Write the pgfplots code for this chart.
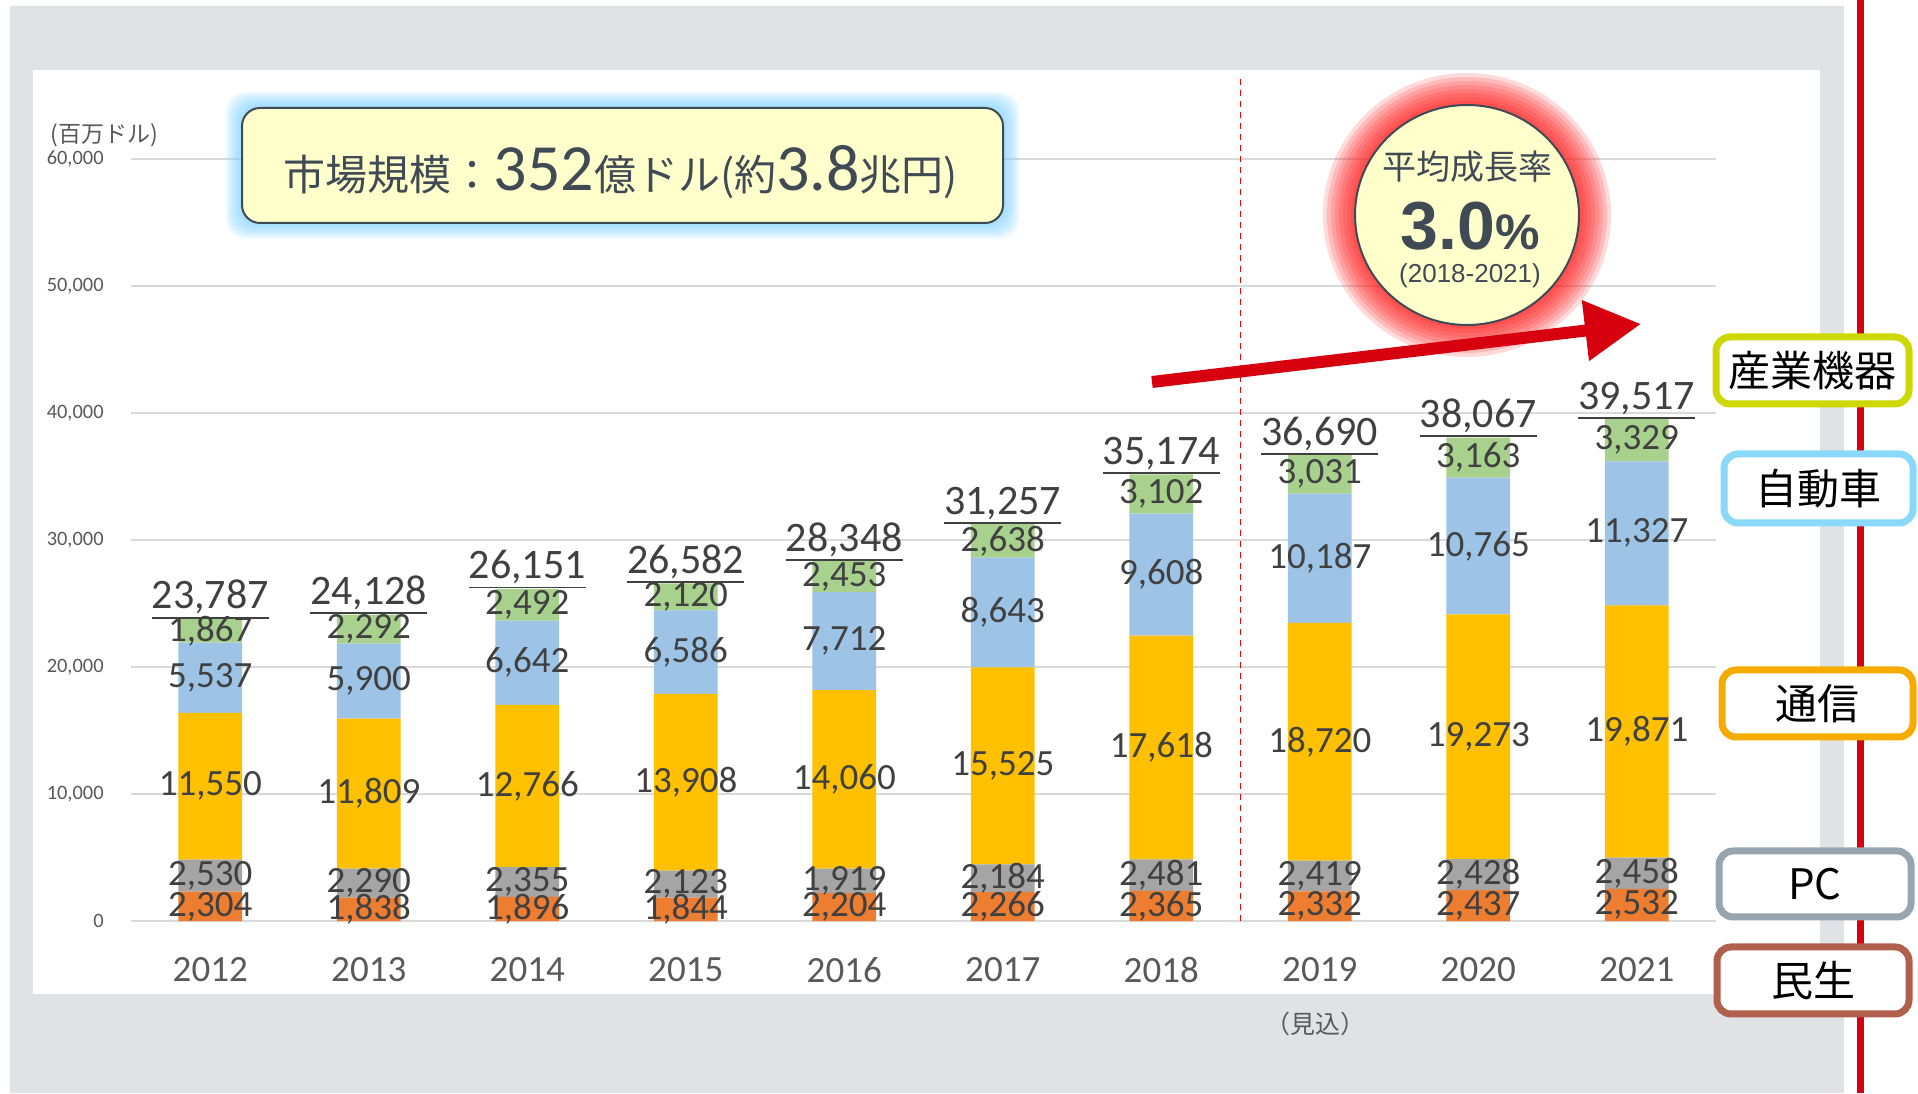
\documentclass[border=0pt]{standalone}
\usepackage{pgfplots}
\usepackage{pgfplotstable}
\pgfplotsset{compat=1.18}
\usepackage{fontspec}
\setmainfont{Carlito}
\newfontfamily\jp{Noto Sans CJK JP}
\newfontfamily\arial{Liberation Sans}
\usetikzlibrary{arrows.meta}

\definecolor{cMin}{HTML}{ED7D31}
\definecolor{cPC}{HTML}{A5A5A5}
\definecolor{cTel}{HTML}{FFC000}
\definecolor{cCar}{HTML}{9DC3E6}
\definecolor{cInd}{HTML}{A9D18E}
\definecolor{bgGrey}{HTML}{E0E3E6}
\definecolor{gridGrey}{HTML}{D9D9D9}
\definecolor{tickGrey}{HTML}{595959}
\definecolor{labText}{HTML}{404040}
\definecolor{slate}{HTML}{3F4A55}
\definecolor{noteYellow}{HTML}{FFFFCC}
\definecolor{glowBlue}{HTML}{7FD3FF}
\definecolor{glowRed}{HTML}{FF1A1A}
\definecolor{arrowRed}{HTML}{D7000F}
\definecolor{bInd}{HTML}{CDD800}
\definecolor{bCar}{HTML}{8AD8FA}
\definecolor{bTel}{HTML}{F5AB00}
\definecolor{bPC}{HTML}{97A6AE}
\definecolor{bMin}{HTML}{B0604C}

\newcommand{\ul}[1]{\begingroup\setbox0=\hbox{#1}\vtop{\copy0\kern1.2pt\hrule height0.9pt width\wd0}\endgroup}

% 民生 PC 通信 自動車 産業機器 (百万ドル)
\pgfplotstableread{
x m p t a s total
0 2304 2530 11550 5537 1867 23787
1 1838 2290 11809 5900 2292 24128
2 1896 2355 12766 6642 2492 26151
3 1844 2123 13908 6586 2120 26582
4 2204 1919 14060 7712 2453 28348
5 2266 2184 15525 8643 2638 31257
6 2365 2481 17618 9608 3102 35174
7 2332 2419 18720 10187 3031 36690
8 2437 2428 19273 10765 3163 38067
9 2532 2458 19871 11327 3329 39517
}\data

\pgfplotsset{
  /pgf/number format/.cd, 1000 sep={,}, assume math mode=true,
  /pgfplots/.cd,
  base/.style={at={(65.5pt,86pt)}, anchor=south west, scale only axis,
    width=792.5pt, height=381pt, xmin=-0.5, xmax=9.5, ymin=0, ymax=60000,
    clip=false},
  lab/.style={draw=none, mark=none, nodes near coords, point meta=explicit,
    nodes near coords={\pgfmathprintnumber{\pgfplotspointmeta}},
    every node near coord/.append style={anchor=center, inner sep=0pt,
      font=\fontsize{18.5pt}{18.5pt}\selectfont, text=labText}},
}

\begin{document}
\begin{tikzpicture}[x=0.5pt,y=0.5pt]
\useasboundingbox (0,0) rectangle (1918,1093);
\fill[bgGrey] (10,0) rectangle (1844,1087);
\fill[white] (33,99) rectangle (1820,1023);
\fill[arrowRed] (1857,0) rectangle (1864,1093);

\begin{axis}[base,
  ybar stacked, bar width=31.8pt,
  axis line style={draw=none},
  major tick length=0pt,
  ymajorgrids, grid style={gridGrey, line width=1pt},
  ytick={0,10000,...,60000}, scaled y ticks=false,
  yticklabel style={anchor=east, inner sep=0pt, xshift=-13.5pt,
    font=\fontsize{10.2pt}{10.2pt}\selectfont, text=tickGrey},
  xtick={0,...,9},
  xticklabels={2012,2013,2014,2015,2016,2017,2018,2019,2020,2021},
  xticklabel style={anchor=center, inner sep=0pt, yshift=-24.5pt,
    font=\fontsize{18.5pt}{18.5pt}\selectfont, text=tickGrey},
]
\addplot[fill=cMin, draw=none] table[x=x, y=m] {\data};
\addplot[fill=cPC, draw=none] table[x=x, y=p] {\data};
\addplot[fill=cTel, draw=none] table[x=x, y=t] {\data};
\addplot[fill=cCar, draw=none] table[x=x, y=a] {\data};
\addplot[fill=cInd, draw=none] table[x=x, y=s] {\data};
\draw[red, line width=0.9pt, dash pattern=on 3pt off 2.5pt] (axis cs:6.5,0) -- (axis cs:6.5,66500);
\end{axis}

\begin{axis}[base, hide axis]
\addplot[lab] table[x=x, y expr=\thisrow{m}/2, meta=m] {\data};
\addplot[lab] table[x=x, y expr=\thisrow{m}+\thisrow{p}/2, meta=p] {\data};
\addplot[lab] table[x=x, y expr=\thisrow{m}+\thisrow{p}+\thisrow{t}/2, meta=t] {\data};
\addplot[lab] table[x=x, y expr=\thisrow{m}+\thisrow{p}+\thisrow{t}+\thisrow{a}/2, meta=a] {\data};
\addplot[lab] table[x=x, y expr=\thisrow{m}+\thisrow{p}+\thisrow{t}+\thisrow{a}+\thisrow{s}/2, meta=s] {\data};
\addplot[draw=none, mark=none, nodes near coords, point meta=explicit,
  nodes near coords={\ul{\pgfmathprintnumber{\pgfplotspointmeta}}},
  every node near coord/.append style={anchor=south, inner sep=0pt, yshift=0pt,
    font=\fontsize{21pt}{21pt}\selectfont, text=labText}]
  table[x=x, y=total, meta=total] {\data};
\end{axis}

% unit label and forecast note
\node[text=tickGrey, font=\jp\fontsize{11.5pt}{11.5pt}\selectfont] at (104,958) {(百万ドル)};
\node[text=tickGrey, font=\jp\fontsize{12.5pt}{12.5pt}\selectfont] at (1315,69) {（見込）};

% callout box
\foreach \d in {16,14,...,2}
  \fill[glowBlue, opacity=0.13, rounded corners=10pt] (242-\d,870-\d) rectangle (1003+\d,985+\d);
\draw[slate, line width=1pt, fill=noteYellow, rounded corners=9pt] (242,870) rectangle (1003,985);
\node[anchor=base, text=slate, inner sep=0pt] at (621,902)
  {\jp\fontsize{21pt}{21pt}\selectfont 市場規模：{\rmfamily\fontsize{33pt}{33pt}\selectfont 352}億ドル(約{\rmfamily\fontsize{33pt}{33pt}\selectfont 3.8}兆円)};

% growth circle
\foreach \r in {144,140,...,114}
  \fill[glowRed, opacity=0.16] (1467,878) ellipse [x radius=\r, y radius=\r-2];
\draw[slate, line width=1pt, fill=noteYellow] (1467,878) ellipse [x radius=112, y radius=110];
\node[text=slate, font=\jp\fontsize{17pt}{17pt}\selectfont] at (1467,926) {平均成長率};
\node[anchor=base, text=slate, inner sep=0pt] at (1470,843)
  {\arial\bfseries\fontsize{34pt}{34pt}\selectfont 3.0\fontsize{25pt}{25pt}\selectfont\%};
\node[anchor=base, text=slate, inner sep=0pt, font=\arial\fontsize{13pt}{13pt}\selectfont] at (1470,810) {(2018-2021)};

% growth arrow
\draw[arrowRed, line width=6pt, -{Triangle[length=28pt,width=29pt]}] (1152,711) -- (1641,769);

% legend boxes
\tikzset{lbox/.style={line width=3.5pt, fill=white, rounded corners=7pt}}
\draw[lbox, draw=bInd] (1716,689) rectangle (1909,756);
\draw[lbox, draw=bCar] (1724,570) rectangle (1913,639);
\draw[lbox, draw=bTel] (1722,356) rectangle (1913,423);
\draw[lbox, draw=bPC]  (1719,176) rectangle (1911,242);
\draw[lbox, draw=bMin] (1717,79)  rectangle (1909,146);
\tikzset{ltext/.style={text=black, font=\jp\fontsize{21pt}{21pt}\selectfont}}
\node[ltext] at (1812,722) {産業機器};
\node[ltext] at (1818,604) {自動車};
\node[ltext] at (1817,389) {通信};
\node[ltext] at (1815,209) {PC};
\node[ltext] at (1813,112) {民生};
\end{tikzpicture}
\end{document}
